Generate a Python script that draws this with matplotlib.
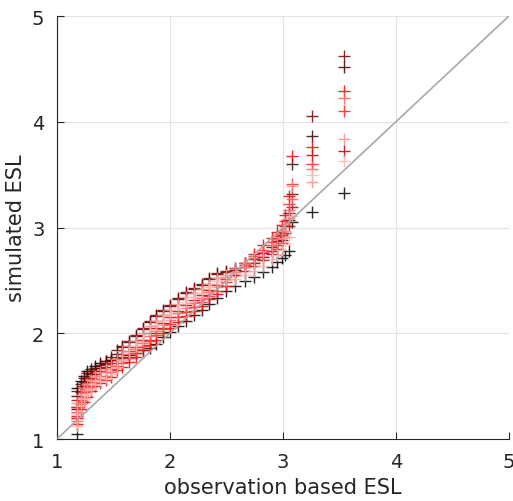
import matplotlib
matplotlib.use("Agg")
import matplotlib.pyplot as plt

# observation based ESL quantiles (shared by all simulations)
obs = [1.18, 1.18, 1.21, 1.24, 1.27, 1.30, 1.34, 1.38, 1.43, 1.48,
       1.53, 1.58, 1.64, 1.70, 1.76, 1.82, 1.88, 1.94, 2.00, 2.07,
       2.14, 2.21, 2.28, 2.35, 2.42, 2.50, 2.58, 2.66, 2.74, 2.82,
       2.90, 2.95, 2.99, 3.02, 3.05, 3.08, 3.26, 3.54]

# simulated ESL quantiles, one list per simulation
sim0 = [1.05, 1.48, 1.55, 1.60, 1.64, 1.66, 1.69, 1.72, 1.74, 1.75,
        1.76, 1.77, 1.79, 1.81, 1.84, 1.86, 1.90, 1.96, 2.01, 2.07,
        2.12, 2.17, 2.22, 2.28, 2.33, 2.40, 2.45, 2.49, 2.53, 2.58,
        2.63, 2.67, 2.71, 2.74, 2.78, 3.05, 3.15, 3.33]
sim1 = [1.28, 1.41, 1.48, 1.54, 1.58, 1.61, 1.64, 1.67, 1.71, 1.75,
        1.80, 1.87, 1.92, 1.97, 2.04, 2.11, 2.16, 2.21, 2.26, 2.32,
        2.38, 2.42, 2.46, 2.51, 2.56, 2.58, 2.60, 2.63, 2.66, 2.72,
        2.78, 2.83, 2.88, 2.95, 3.07, 3.60, 3.87, 4.52]
sim2 = [1.30, 1.45, 1.52, 1.58, 1.62, 1.64, 1.67, 1.70, 1.74, 1.78,
        1.84, 1.88, 1.93, 1.98, 2.05, 2.12, 2.17, 2.22, 2.27, 2.33,
        2.39, 2.43, 2.47, 2.52, 2.57, 2.59, 2.62, 2.66, 2.70, 2.76,
        2.82, 2.87, 2.93, 3.01, 3.14, 3.32, 4.05, 4.62]
sim3 = [1.22, 1.37, 1.44, 1.50, 1.54, 1.58, 1.61, 1.64, 1.68, 1.72,
        1.75, 1.78, 1.83, 1.87, 1.94, 2.00, 2.05, 2.10, 2.15, 2.21,
        2.27, 2.31, 2.36, 2.41, 2.46, 2.51, 2.55, 2.59, 2.64, 2.69,
        2.75, 2.80, 2.85, 2.91, 3.01, 3.19, 3.69, 3.72]
sim4 = [1.14, 1.20, 1.28, 1.35, 1.40, 1.45, 1.50, 1.53, 1.56, 1.59,
        1.65, 1.68, 1.73, 1.78, 1.84, 1.89, 1.94, 2.00, 2.05, 2.11,
        2.16, 2.21, 2.26, 2.32, 2.37, 2.45, 2.55, 2.66, 2.75, 2.83,
        2.90, 2.96, 3.02, 3.12, 3.30, 3.68, 3.76, 4.29]
sim5 = [1.20, 1.30, 1.37, 1.44, 1.48, 1.52, 1.57, 1.60, 1.63, 1.66,
        1.69, 1.72, 1.77, 1.81, 1.88, 1.93, 1.98, 2.04, 2.09, 2.15,
        2.20, 2.25, 2.30, 2.35, 2.40, 2.48, 2.58, 2.65, 2.73, 2.79,
        2.86, 2.92, 2.97, 3.06, 3.22, 3.41, 3.60, 4.10]
sim6 = [1.17, 1.26, 1.33, 1.40, 1.45, 1.49, 1.54, 1.57, 1.60, 1.63,
        1.68, 1.75, 1.80, 1.85, 1.91, 1.97, 2.02, 2.08, 2.13, 2.19,
        2.24, 2.29, 2.33, 2.39, 2.44, 2.53, 2.62, 2.66, 2.71, 2.77,
        2.83, 2.89, 2.94, 3.02, 3.17, 3.27, 3.55, 4.22]
sim7 = [1.25, 1.34, 1.42, 1.48, 1.52, 1.56, 1.60, 1.63, 1.66, 1.70,
        1.76, 1.83, 1.88, 1.93, 2.00, 2.07, 2.12, 2.17, 2.22, 2.28,
        2.34, 2.38, 2.42, 2.47, 2.52, 2.55, 2.58, 2.63, 2.67, 2.73,
        2.79, 2.84, 2.90, 2.97, 3.09, 3.39, 3.43, 3.84]
sim8 = [1.12, 1.23, 1.31, 1.38, 1.42, 1.47, 1.52, 1.55, 1.58, 1.61,
        1.68, 1.75, 1.82, 1.88, 1.95, 2.03, 2.08, 2.13, 2.18, 2.24,
        2.30, 2.34, 2.38, 2.44, 2.49, 2.50, 2.51, 2.55, 2.59, 2.64,
        2.70, 2.74, 2.79, 2.84, 2.91, 3.11, 3.50, 3.63]

sims = [sim0, sim1, sim2, sim3, sim4, sim5, sim6, sim7, sim8]
colors = ["#000000", "#3c0000", "#780000", "#b40000", "#f00000",
          "#ff2020", "#ff5a5a", "#ff8c8c", "#ffb4b4"]

fig = plt.figure(figsize=(5.13, 5.02), dpi=100)
ax = fig.add_axes([0.111, 0.1235, 0.881, 0.8426])

for y, c in zip(sims, colors):
    ax.plot(obs, y, "+", color=c, markersize=8, markeredgewidth=1.0,
            alpha=0.85, zorder=3)

# 1:1 line
ax.plot([1, 5], [1, 5], color="#a8a8a8", linewidth=1.2, zorder=4)

ax.set_xlim(1, 5)
ax.set_ylim(1, 5)
ax.set_xticks([1, 2, 3, 4, 5])
ax.set_yticks([1, 2, 3, 4, 5])
ax.grid(True, color="#e3e3e3", linewidth=0.8, zorder=0)
ax.set_axisbelow(True)
for s in ["top", "right"]:
    ax.spines[s].set_visible(False)
for s in ["left", "bottom"]:
    ax.spines[s].set_color("#262626")
    ax.spines[s].set_linewidth(0.8)
ax.tick_params(direction="in", length=5, width=0.8, colors="#262626",
               labelsize=14, pad=9)
ax.set_xlabel("observation based ESL", fontsize=15, color="#262626", labelpad=5)
ax.set_ylabel("simulated ESL", fontsize=15, color="#262626", labelpad=4)

fig.savefig("out.png", dpi=100)
